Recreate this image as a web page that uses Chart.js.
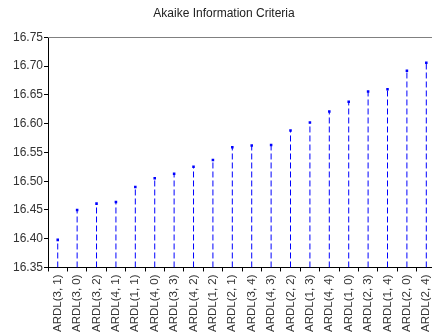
<!DOCTYPE html>
<html>
<head>
<meta charset="utf-8">
<script src="https://cdn.jsdelivr.net/npm/chart.js@4"></script>
<style>
  html, body { margin: 0; padding: 0; background: #fff; overflow: hidden; }
  #wrap { width: 484px; height: 335px; }
</style>
</head>
<body>
<div id="wrap"><canvas id="c" width="484" height="335"></canvas></div>
<script>
// ARDL model specifications, ordered by Akaike criterion
const models = ['ARDL(3, 1)', 'ARDL(3, 0)', 'ARDL(3, 2)', 'ARDL(4, 1)', 'ARDL(1, 1)',
                'ARDL(4, 0)', 'ARDL(3, 3)', 'ARDL(4, 2)', 'ARDL(1, 2)', 'ARDL(2, 1)',
                'ARDL(3, 4)', 'ARDL(4, 3)', 'ARDL(2, 2)', 'ARDL(1, 3)', 'ARDL(4, 4)',
                'ARDL(1, 0)', 'ARDL(2, 3)', 'ARDL(1, 4)', 'ARDL(2, 0)', 'ARDL(2, 4)'];
const aicValues = [16.398, 16.450, 16.461, 16.464, 16.490,
                   16.505, 16.513, 16.525, 16.537, 16.559,
                   16.562, 16.563, 16.588, 16.602, 16.621,
                   16.638, 16.656, 16.660, 16.692, 16.706];
const yTicks = [16.35, 16.40, 16.45, 16.50, 16.55, 16.60, 16.65, 16.70, 16.75];
const baseValue = 16.35;

// stem segments: base -> value, broken by a gap after each model
const stemPoints = [];
models.forEach((m, i) => {
  stemPoints.push({ x: m, y: baseValue });
  stemPoints.push({ x: m, y: aicValues[i] });
  stemPoints.push({ x: m, y: null });
});

// thin grey frame line along the top of the plot
const topFrame = {
  id: 'topFrame',
  afterDraw(chart) {
    const { ctx, chartArea } = chart;
    ctx.save();
    ctx.strokeStyle = '#808080';
    ctx.lineWidth = 1;
    ctx.beginPath();
    ctx.moveTo(chartArea.left, Math.round(chartArea.top) + 0.5);
    ctx.lineTo(chartArea.right, Math.round(chartArea.top) + 0.5);
    ctx.stroke();
    ctx.restore();
  }
};

const font12 = { family: 'Liberation Sans, Arial', size: 12, weight: 'normal' };
const fontX = { family: 'Liberation Sans, Arial', size: 11.5, weight: 'normal' };

new Chart(document.getElementById('c'), {
  type: 'line',
  data: {
    labels: models,
    datasets: [
      {
        data: stemPoints,
        borderColor: '#0000ff',
        borderWidth: 1,
        borderDash: [6, 3],
        pointRadius: 0,
        spanGaps: false,
        tension: 0
      },
      {
        data: aicValues,
        showLine: false,
        pointStyle: 'rect',
        pointRadius: 1.8,
        pointBackgroundColor: '#0000ff',
        pointBorderColor: '#0000ff',
        pointBorderWidth: 0
      }
    ]
  },
  options: {
    responsive: false,
    animation: false,
    layout: { padding: { left: 12, right: 48, top: 0, bottom: 0 } },
    plugins: {
      legend: { display: false },
      tooltip: { enabled: false },
      title: {
        display: true,
        text: 'Akaike Information Criteria',
        color: '#222',
        font: font12,
        padding: { top: 6, bottom: 17 }
      }
    },
    scales: {
      x: {
        type: 'category',
        offset: true,
        grid: { offset: true, drawOnChartArea: false, drawTicks: true, tickLength: 4, color: '#000' },
        border: { display: true, color: '#000', width: 1 },
        ticks: {
          minRotation: 90, maxRotation: 90, autoSkip: false,
          padding: 3,
          color: '#333',
          font: fontX
        }
      },
      y: {
        min: 16.35, max: 16.75,
        afterBuildTicks(scale) { scale.ticks = yTicks.map(v => ({ value: v })); },
        grid: { drawOnChartArea: false, drawTicks: true, tickLength: 4, color: '#000' },
        border: { display: true, color: '#000', width: 1 },
        ticks: {
          padding: 1,
          color: '#333',
          font: font12,
          callback: v => Number(v).toFixed(2)
        }
      }
    }
  },
  plugins: [topFrame]
});
</script>
</body>
</html>
